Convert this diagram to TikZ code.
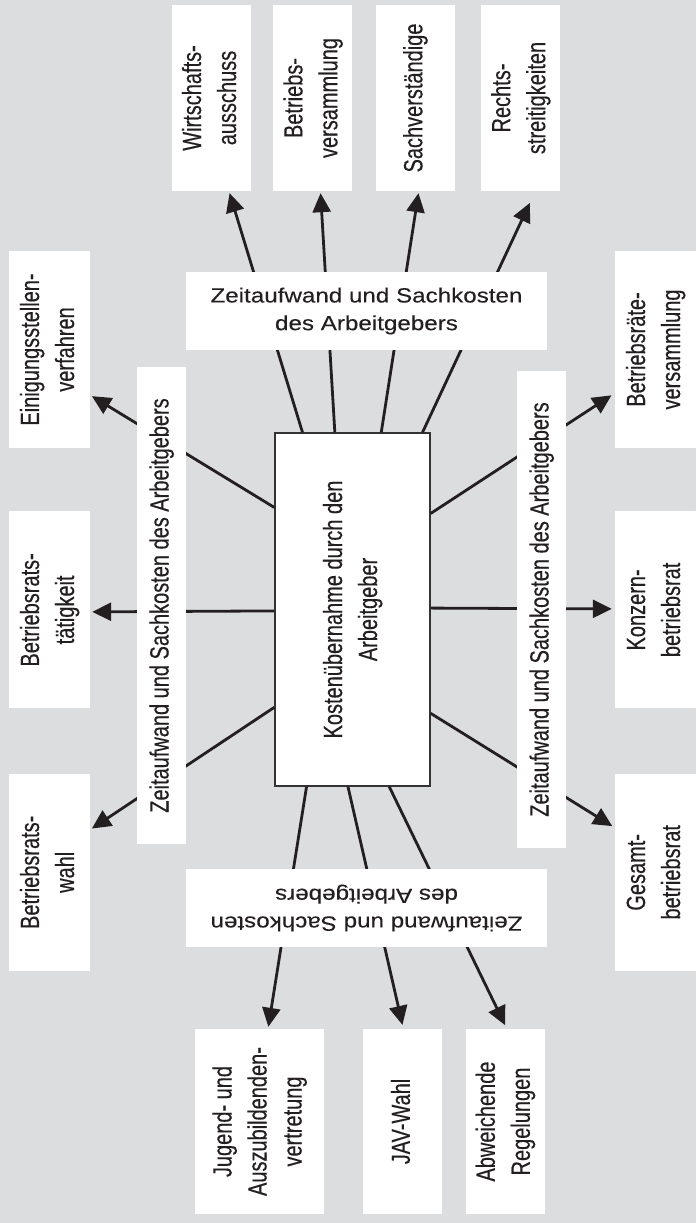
\documentclass[tikz,border=0pt]{standalone}
\usepackage{fontspec}
\setmainfont{Liberation Sans}
\newfontfamily\narrowfont[FakeStretch=0.76,FakeBold=0.35]{Liberation Sans}
\newfontfamily\widefont[FakeStretch=1.18,FakeBold=0.2]{Liberation Sans}
\usetikzlibrary{arrows.meta,calc,positioning}
\definecolor{bggray}{RGB}{220,221,223}
\definecolor{inkblack}{RGB}{35,31,32}
\newcommand{\vtext}[1]{\rotatebox{90}{\begin{tabular}{@{}c@{}}#1\end{tabular}}}
\tikzstyle{target}=[fill=white,inner sep=0pt,text=inkblack,
                    font=\narrowfont\fontsize{26.3}{35}\selectfont]
\tikzstyle{topbox}=[target,minimum width=79pt,minimum height=186pt]
\tikzstyle{sidebox}=[target,minimum width=81pt,minimum height=197pt]
\tikzstyle{lowbox}=[target,minimum width=79pt,minimum height=185pt]
\tikzstyle{mainbox}=[target,draw=black!80,line width=1.3pt,
                     minimum width=155pt,minimum height=353pt]
\tikzstyle{costlabel}=[fill=white,inner sep=0pt,text=inkblack,align=center,
                       minimum width=361pt,minimum height=78pt,
                       font=\widefont\fontsize{20.5}{27.7}\selectfont]
\tikzstyle{costband}=[target,minimum width=49pt,minimum height=477pt]
\tikzstyle{spoke}=[-{Triangle[length=19pt,width=18pt]},line width=2.8pt,
                   draw=inkblack,shorten >=2pt]

\begin{document}
\begin{tikzpicture}[x=1pt,y=-1pt]

  \fill[bggray] (0,0) rectangle (696,1223);

  % centre
  \node[mainbox] (cb) at (352.5,609.5) {\vtext{Kostenübernahme durch den\\Arbeitgeber}};

  % top row
  \node[topbox] (ws) at (211.5,98) {\vtext{Wirtschafts-\\ausschuss}};
  \node[topbox] (bv) [right=22pt of ws] {\vtext{Betriebs-\\versammlung}};
  \node[topbox] (sv) [right=23pt of bv] {\vtext{Sachverständige}};
  \node[topbox] (rs) [right=26pt of sv] {\vtext{Rechts-\\streitigkeiten}};

  % left column
  \node[sidebox] (es) at (49.5,349.5) {\vtext{Einigungsstellen-\\verfahren}};
  \node[sidebox] (bt) [below=63pt of es] {\vtext{Betriebsrats-\\tätigkeit}};
  \node[sidebox] (bw) [below=65pt of bt] {\vtext{Betriebsrats-\\wahl}};

  % right column
  \node[sidebox] (br) at (655.5,349.5) {\vtext{Betriebsräte-\\versammlung}};
  \node[sidebox] (kb) [below=63pt of br] {\vtext{Konzern-\\betriebsrat}};
  \node[sidebox] (gb) [below=65pt of kb] {\vtext{Gesamt-\\betriebsrat}};

  % bottom row
  \node[lowbox,minimum width=129pt] (ja) at (259.5,1121.5) {\vtext{Jugend- und\\Auszubildenden-\\vertretung}};
  \node[lowbox] (jw) [right=39pt of ja] {\vtext{JAV-Wahl}};
  \node[lowbox] (ar) [right=23pt of jw] {\vtext{Abweichende\\Regelungen}};

  % spokes
  \draw[spoke] ($(cb.north west)!0.18!(cb.north east)$) -- ($(ws.south west)!0.72!(ws.south east)$);
  \draw[spoke] ($(cb.north west)!0.387!(cb.north east)$) -- ($(bv.south west)!0.595!(bv.south east)$);
  \draw[spoke] ($(cb.north west)!0.684!(cb.north east)$) -- ($(sv.south west)!0.544!(sv.south east)$);
  \draw[spoke,shorten >=13pt] ($(cb.north west)!0.948!(cb.north east)$) -- ($(rs.south west)!0.684!(rs.south east)$);

  \draw[spoke] ($(cb.north west)!0.212!(cb.south west)$) -- ($(es.north east)!0.731!(es.south east)$);
  \draw[spoke] ($(cb.north west)!0.504!(cb.south west)$) -- ($(bt.north east)!0.51!(bt.south east)$);
  \draw[spoke] ($(cb.north west)!0.776!(cb.south west)$) -- ($(bw.north east)!0.284!(bw.south east)$);

  \draw[spoke,shorten >=4pt] ($(cb.north east)!0.229!(cb.south east)$) -- ($(br.north west)!0.721!(br.south west)$);
  \draw[spoke,shorten >=3pt] ($(cb.north east)!0.496!(cb.south east)$) -- ($(kb.north west)!0.495!(kb.south west)$);
  \draw[spoke,shorten >=3pt] ($(cb.north east)!0.793!(cb.south east)$) -- ($(gb.north west)!0.274!(gb.south west)$);

  \draw[spoke] ($(cb.south west)!0.206!(cb.south east)$) -- ($(ja.north west)!0.566!(ja.north east)$);
  \draw[spoke,shorten >=4pt] ($(cb.south west)!0.471!(cb.south east)$) -- ($(jw.north west)!0.506!(jw.north east)$);
  \draw[spoke,shorten >=4pt] ($(cb.south west)!0.735!(cb.south east)$) -- ($(ar.north west)!0.52!(ar.north east)$);

  % cost labels over the spokes
  \node[costlabel] (tl) at (366.5,311) {Zeitaufwand und Sachkosten\\des Arbeitgebers};
  \node[costlabel,rotate=180] (bl) at (366.5,908) {Zeitaufwand und Sachkosten\\des Arbeitgebers};
  \node[costband] (ll) at (161.5,605.5) {\vtext{Zeitaufwand und Sachkosten des Arbeitgebers}};
  \node[costband] (rl) at (541.5,609.5) {\vtext{Zeitaufwand und Sachkosten des Arbeitgebers}};

\end{tikzpicture}
\end{document}
